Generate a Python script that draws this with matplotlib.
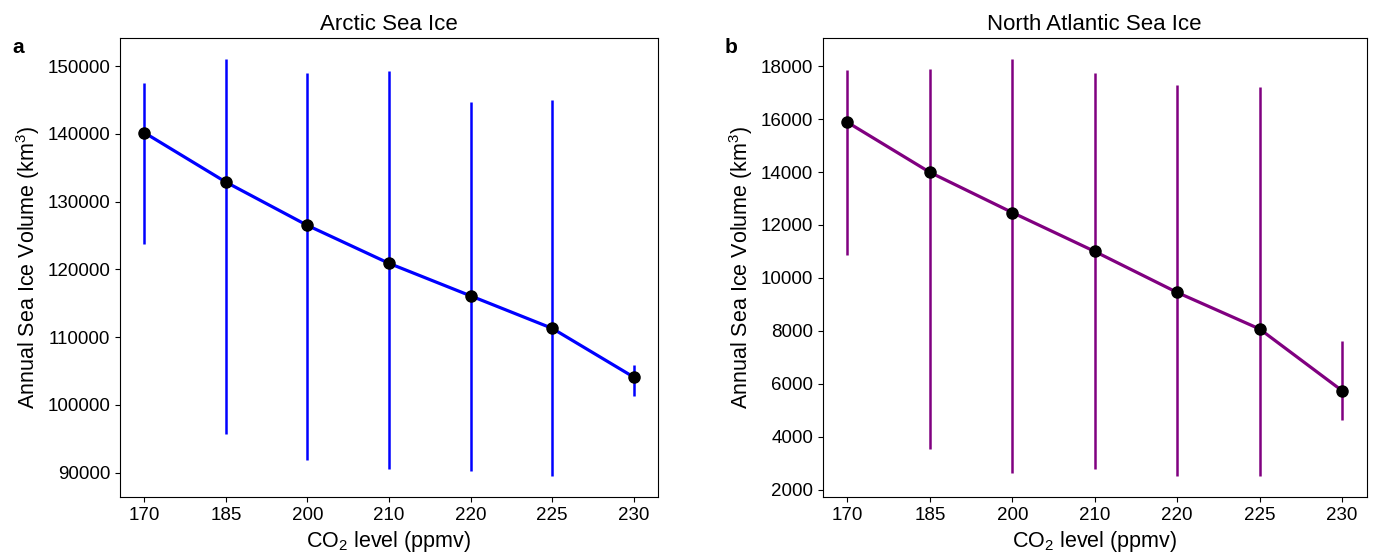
import matplotlib
matplotlib.use('Agg')
import matplotlib.pyplot as plt

plt.rcParams['font.family'] = ['Liberation Sans', 'DejaVu Sans']
plt.rcParams['mathtext.fontset'] = 'custom'
plt.rcParams['mathtext.rm'] = 'Liberation Sans'

# ---------------------------
# 資料
# ---------------------------
co2_levels = ['170', '185', '200', '210', '220', '225', '230']

arctic_mean = [140200, 132900, 126500, 120900, 116100, 111300, 104100]
arctic_top = [147500, 151100, 148950, 149350, 144650, 144950, 105950]
arctic_bottom = [123750, 95750, 91800, 90500, 90250, 89450, 101300]

atlantic_mean = [15880, 13990, 12470, 11000, 9450, 8070, 5740]
atlantic_top = [17840, 17880, 18280, 17760, 17290, 17200, 7610]
atlantic_bottom = [10860, 3540, 2620, 2780, 2500, 2500, 4620]

fig = plt.figure(figsize=(13.77, 5.58), dpi=100)
ax1 = fig.add_axes([0.087, 0.109, 0.391, 0.823])
ax2 = fig.add_axes([0.5975, 0.109, 0.395, 0.823])

panels = [
    (ax1, arctic_mean, arctic_top, arctic_bottom, 'blue', 'Arctic Sea Ice'),
    (ax2, atlantic_mean, atlantic_top, atlantic_bottom, 'purple', 'North Atlantic Sea Ice'),
]

for ax, mean, top, bottom, color, title in panels:
    x = list(range(len(co2_levels)))
    # 誤差線 + 平均值折線
    ax.vlines(x, bottom, top, color=color, linewidth=1.8, zorder=1)
    ax.plot(x, mean, '-', color=color, linewidth=2.3, zorder=2)
    ax.plot(x, mean, 'o', color='black', markersize=8, zorder=3)
    ax.set_xticks(x)
    ax.set_xticklabels(co2_levels)
    ax.tick_params(labelsize=13.5)
    ax.set_title(title, fontsize=16)
    ax.set_xlabel(r'CO$_2$ level (ppmv)', fontsize=15.5)
    ax.set_ylabel(r'Annual Sea Ice Volume (km$^3$)', fontsize=15.5)

fig.text(0.009, 0.905, 'a', fontsize=15, fontweight='bold')
fig.text(0.526, 0.905, 'b', fontsize=15, fontweight='bold')

plt.savefig('out.png', dpi=100)
